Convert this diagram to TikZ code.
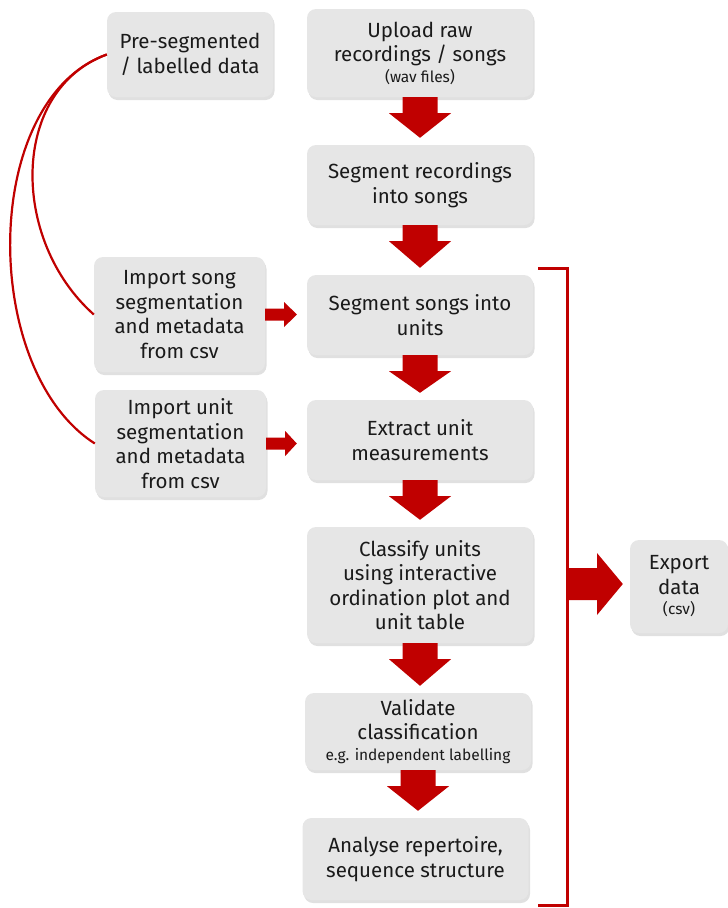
\documentclass[tikz,border=0pt]{standalone}
\usepackage{fontspec}
\setmainfont{Fira Sans}
\usetikzlibrary{calc,shadows}
\definecolor{boxgray}{HTML}{E6E6E6}
\definecolor{arrred}{HTML}{C00000}
\definecolor{txt}{HTML}{1A1A1A}
\newcommand\smalltxt{\fontsize{15.5}{17}\selectfont}
\tikzset{
  box/.style={draw=none, fill=boxgray, rounded corners=9pt, text=txt, align=center,
    font=\fontsize{20.5}{24.5}\selectfont, inner sep=0pt,
    drop shadow={shadow xshift=1.5pt, shadow yshift=-3pt, fill=black, opacity=0.12}},
  arr/.style={fill=arrred, draw=none},
  link/.style={draw=arrred, line width=2.2pt},
}
\newcommand\downarr[2]{\fill[arr] let \p1=(#1.south), \p2=(#2.north) in
  (\x1-17.5pt,\y1) -- (\x1+17.5pt,\y1) -- (\x1+17.5pt,\y1-16pt) -- (\x1+31pt,\y1-16pt)
  -- (\x1,\y2+7pt) -- (\x1-31pt,\y1-16pt) -- (\x1-17.5pt,\y1-16pt) -- cycle;}
\newcommand\rightarr[2]{\fill[arr] let \p1=(#1.east), \p2=(#2.west) in
  (\x1,\y1+6pt) -- (\x1+19pt,\y1+6pt) -- (\x1+19pt,\y1+12.5pt) -- (\x2-10pt,\y1)
  -- (\x1+19pt,\y1-12.5pt) -- (\x1+19pt,\y1-6pt) -- (\x1,\y1-6pt) -- cycle;}
\begin{document}
\begin{tikzpicture}[x=1pt,y=-1pt]
\useasboundingbox (0,0) rectangle (728,908);
\node[box, minimum width=166pt, minimum height=85pt] (pre) at (190,54.5) {Pre-segmented\\/ labelled data};
\node[box, minimum width=226pt, minimum height=88pt] (upload) at (420,53) {Upload raw\\recordings / songs\\[-4pt]{\smalltxt (wav files)}};
\node[box, minimum width=226pt, minimum height=80pt] (segrec) at (420,185) {Segment recordings\\into songs};
\node[box, minimum width=226pt, minimum height=80pt] (segunits) at (420,315) {Segment songs into\\units};
\node[box, minimum width=226pt, minimum height=80pt] (extract) at (420,440) {Extract unit\\measurements};
\node[box, minimum width=226pt, minimum height=116pt] (classify) at (420,585) {Classify units\\using interactive\\ordination plot and\\unit table};
\node[box, minimum width=226pt, minimum height=77pt] (validate) at (418,731.5) {Validate\\classification\\[-4pt]{\smalltxt e.g. independent labelling}};
\node[box, minimum width=226pt, minimum height=82pt] (analyse) at (415.5,859) {Analyse repertoire,\\sequence structure};
\node[box, minimum width=171pt, minimum height=115pt] (impsong) at (179.5,314.5) {Import song\\segmentation\\and metadata\\from csv};
\node[box, minimum width=171pt, minimum height=107pt] (impunit) at (180.5,443.5) {Import unit\\segmentation\\and metadata\\from csv};
\node[box, minimum width=98pt, minimum height=93pt] (export) at (679,586.5) {Export\\data\\[-4pt]{\smalltxt (csv)}};

\downarr{upload}{segrec}
\downarr{segrec}{segunits}
\downarr{segunits}{extract}
\downarr{extract}{classify}
\downarr{classify}{validate}
\downarr{validate}{analyse}
\rightarr{impsong}{segunits}
\rightarr{impunit}{extract}

\coordinate (btop) at (538,268);
\coordinate (bbot) at (538,905);
\coordinate (bmid) at (567,584);
\draw[draw=arrred, line width=3pt] (btop) -- (567,268) -- (567,905) -- (bbot);
\fill[arr] let \p1=(bmid), \p2=(export.west) in
  (\x1,\y1+16pt) -- (\x1+30pt,\y1+16pt) -- (\x1+30pt,\y1+31pt) -- (\x2-7pt,\y1)
  -- (\x1+30pt,\y1-31pt) -- (\x1+30pt,\y1-16pt) -- (\x1,\y1-16pt) -- cycle;

\draw[link] (pre.west) .. controls (10,90) and (10,240) .. (impsong.west);
\draw[link] (pre.west) .. controls (-20,100) and (-20,370) .. (impunit.west);
\end{tikzpicture}
\end{document}
